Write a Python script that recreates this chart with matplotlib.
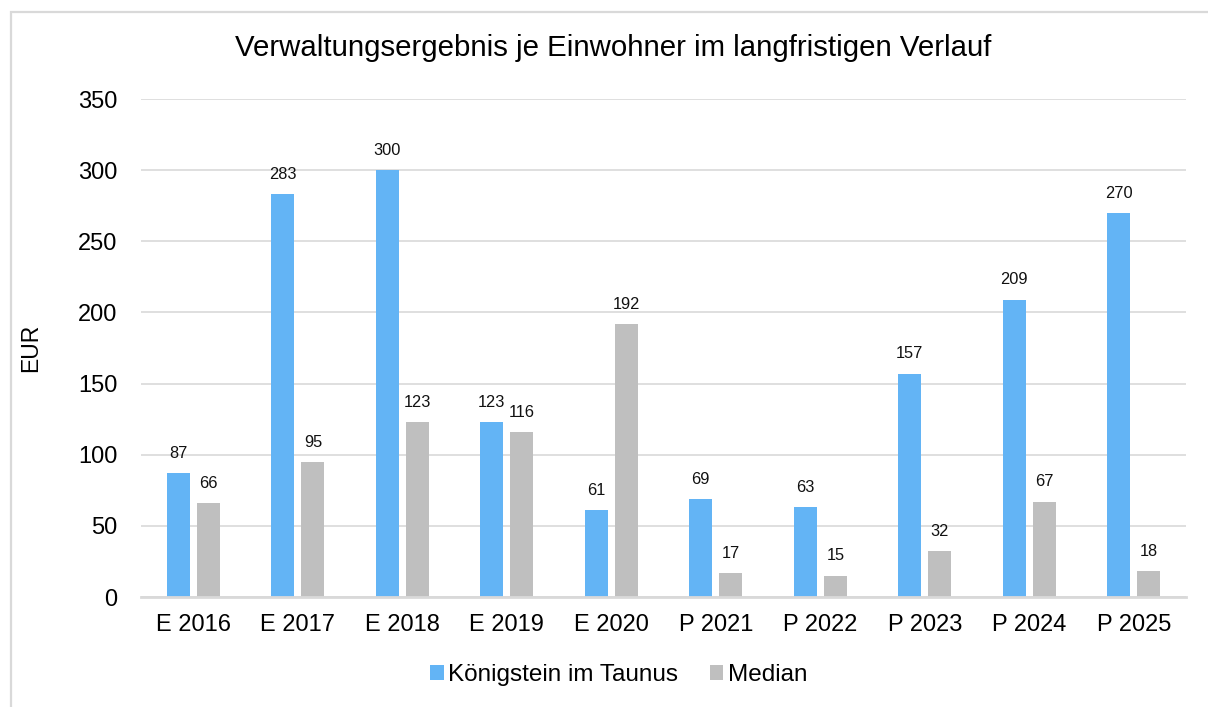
import numpy as np
import matplotlib.pyplot as plt
from matplotlib.patches import Rectangle

plt.rcParams['font.family'] = ['Liberation Sans', 'DejaVu Sans']

categories = ["E 2016", "E 2017", "E 2018", "E 2019", "E 2020",
              "P 2021", "P 2022", "P 2023", "P 2024", "P 2025"]
koenigstein = [87, 283, 300, 123, 61, 69, 63, 157, 209, 270]
median = [66, 95, 123, 116, 192, 17, 15, 32, 67, 18]

blue = "#63B4F5"
grey = "#BFBFBF"

fig = plt.figure(figsize=(12.08, 7.07), dpi=100)
ax = fig.add_axes([141 / 1208, 1 - 597 / 707, 1045 / 1208, 498 / 707])

# outer chart frame
fig.patches.append(Rectangle((11 / 1208, -0.01), 1.0, 1 - 12 / 707 + 0.01,
                             transform=fig.transFigure, fill=False,
                             edgecolor="#D9D9D9", linewidth=1.6))

x = np.arange(len(categories))
w = 0.22
off = 0.145
b1 = ax.bar(x - off, koenigstein, w, color=blue, label="Königstein im Taunus", zorder=3)
b2 = ax.bar(x + off, median, w, color=grey, label="Median", zorder=3)

for bars in (b1, b2):
    for r in bars:
        ax.annotate(f"{int(r.get_height())}", (r.get_x() + r.get_width() / 2, r.get_height()),
                    xytext=(0, 11), textcoords="offset points", ha="center", va="baseline",
                    fontsize=11.8, color="#111111")

ax.set_xlim(-0.5, len(categories) - 0.5)
ax.set_ylim(0, 350)
ax.set_yticks(range(0, 351, 50))
ax.set_xticks(x)
ax.set_xticklabels(categories)
ax.tick_params(axis="both", length=0, labelsize=17, colors="black")
ax.tick_params(axis="x", pad=12)
ax.tick_params(axis="y", pad=17)
ax.grid(axis="y", color="#D9D9D9", linewidth=1.2, zorder=0)
for s in ("top", "right", "left"):
    ax.spines[s].set_visible(False)
ax.spines["bottom"].set_color("#D9D9D9")
ax.spines["bottom"].set_linewidth(2)
ax.spines["bottom"].set_zorder(4)

ax.set_ylabel("EUR", fontsize=16.5)
ax.yaxis.set_label_coords(-99 / 1045, 0.5)

fig.text(613 / 1208, 1 - 48 / 707, "Verwaltungsergebnis je Einwohner im langfristigen Verlauf",
         ha="center", va="center", fontsize=21.2)

fig.legend(loc="center", bbox_to_anchor=(619 / 1208, 1 - 675 / 707), ncol=2,
           frameon=False, fontsize=17.5, handlelength=0.55, handleheight=0.55,
           handletextpad=0.2, columnspacing=1.3)

plt.savefig("out.png", dpi=100)
